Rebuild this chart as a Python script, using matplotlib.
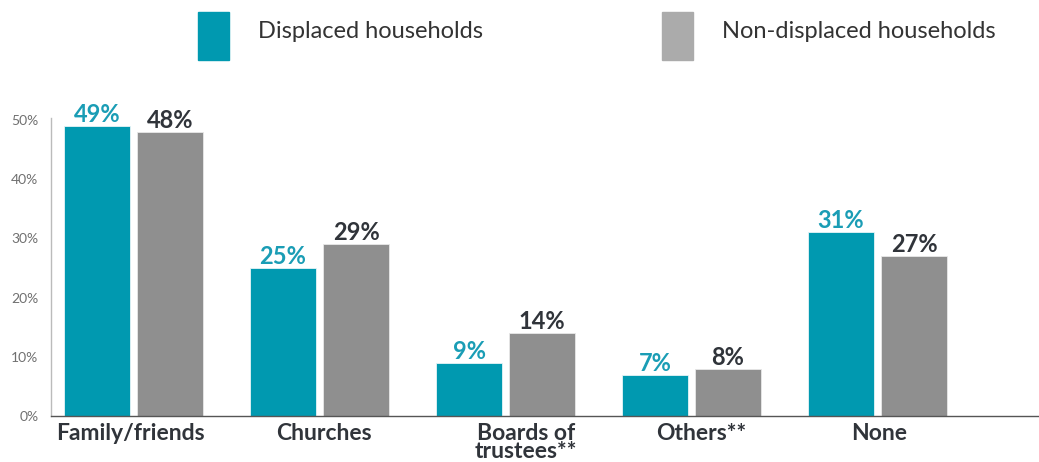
import matplotlib.pyplot as plt
import numpy as np
from matplotlib.patches import Rectangle

categories = ['Family/friends', 'Churches', 'Boards of\ntrustees**', 'Others**', 'None']
displaced = [49, 25, 9, 7, 31]
non_displaced = [48, 29, 14, 8, 27]
yticks = [0, 10, 20, 30, 40, 50]
series_names = ['Displaced households', 'Non-displaced households']

TEAL = '#0099B0'
GRAY = '#8F8F8F'
LEG_GRAY = '#ABABAB'
DARK = '#30343A'

plt.rcParams['font.family'] = ['Lato', 'DejaVu Sans']

fig = plt.figure(figsize=(10.39, 4.62), dpi=100)
W, H = 1039, 462
ax = fig.add_axes([51 / W, 46 / H, 988 / W, 298 / H])

x = np.arange(len(categories))
w = 66 / 186
off = 36.5 / 186
ax.bar(x - off, displaced, w, color=TEAL, edgecolor='#E6F4F7', linewidth=0.6)
ax.bar(x + off, non_displaced, w, color=GRAY, edgecolor='#E8E8E8', linewidth=0.6)

for xi, v in zip(x, displaced):
    ax.annotate(f'{v}%', (xi - off, v), xytext=(0, 0), textcoords='offset points',
                ha='center', va='bottom', fontsize=17, fontweight='bold', color='#1A9DB5')
for xi, v in zip(x, non_displaced):
    ax.annotate(f'{v}%', (xi + off, v), xytext=(0, 0), textcoords='offset points',
                ha='center', va='bottom', fontsize=17, fontweight='bold', color=DARK)

ax.set_xlim(-0.4435, 4.868)
ax.set_ylim(0, 50.3)
ax.set_yticks(yticks)
ax.set_yticklabels([f'{t}%' for t in yticks], fontsize=10, color='#707070')
ax.set_xticks(x)
ax.set_xticklabels([])
ax.tick_params(axis='y', length=0, pad=9)
ax.tick_params(axis='x', length=0)

# category labels, nudged sideways a little like the reference
label_shift = [-2, 3, 15, 7, 1]
for xi, cat, dx in zip(x, categories, label_shift):
    ax.annotate(cat, (xi, 0), xytext=(dx, -5), textcoords='offset points',
                ha='center', va='top', fontsize=16.5, fontweight='bold', color=DARK,
                linespacing=0.8, annotation_clip=False)

for s in ['top', 'right']:
    ax.spines[s].set_visible(False)
ax.spines['left'].set_color('#BBBBBB')
ax.spines['left'].set_linewidth(1)
ax.spines['bottom'].set_color('#555555')
ax.spines['bottom'].set_linewidth(1)

# legend
for (px, col, name) in [(198, TEAL, series_names[0]), (662, LEG_GRAY, series_names[1])]:
    fig.patches.append(Rectangle((px / W, 1 - 60 / H), 31 / W, 48 / H,
                                 transform=fig.transFigure, color=col))
    fig.text((px + 60) / W, 1 - 31 / H, name, fontsize=17, color='#333333',
             ha='left', va='center')

fig.savefig('out.png', dpi=100)
